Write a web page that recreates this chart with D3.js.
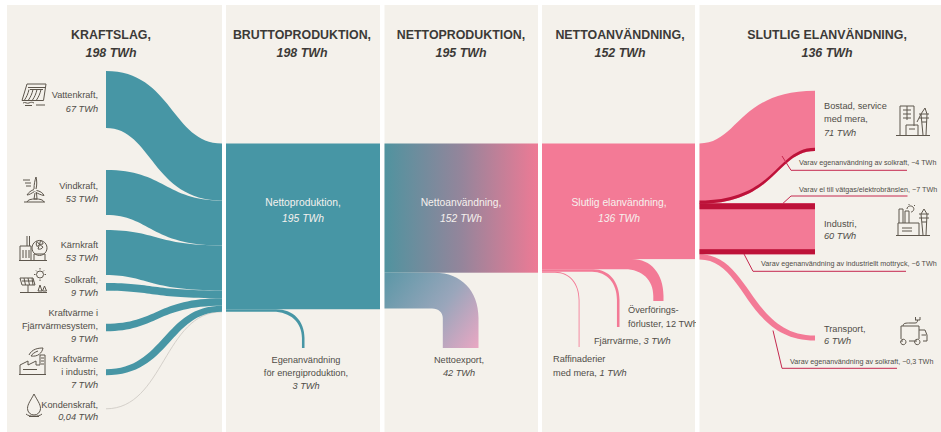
<!DOCTYPE html>
<html>
<head>
<meta charset="utf-8">
<script src="https://cdn.jsdelivr.net/npm/d3@7/dist/d3.min.js"></script>
<style>
html, body { margin: 0; padding: 0; background: #fff; }
svg { display: block; }
text { font-family: "Liberation Sans", Arial, sans-serif; }
.icon { fill: none; stroke: #5d564c; stroke-width: 1; }
</style>
</head>
<body>
<div id="chart"></div>
<script>
// values in TWh
var columnTitles = ["KRAFTSLAG,", "BRUTTOPRODUKTION,", "NETTOPRODUKTION,", "NETTOANVÄNDNING,", "SLUTLIG ELANVÄNDNING,"];
var columnTotals = [198, 198, 195, 152, 136];

var sourceValues = [67, 53, 53, 9, 9, 7, 0.04];
var sourceLabels = [["Vattenkraft,"], ["Vindkraft,"], ["Kärnkraft"], ["Solkraft,"],
    ["Kraftvärme i", "Fjärrvärmesystem,"], ["Kraftvärme", "i industri,"], ["Kondenskraft,"]];

var ownUseValue = 3;
var exportValue = 42;
var lossValues = [12, 3, 1];   // överföring, fjärrvärme, raffinaderier
var useValues = [71, 60, 6];   // bostad, industri, transport
var ofWhichValues = [4, 7, 6, 0.3];

var width = 941, height = 432;
var teal = "#4796a5", pink = "#f37a96", crimson = "#bd1239", bg = "#f4f1eb", ink = "#504d48";

// panel edges and the layout of the sankey
var panels = [[7, 222], [226, 380], [384.5, 538], [542, 695], [699.5, 941]];
var titleCenters = [111, 302, 461, 620, 827];
var blockTop = 143.5;
var sourceX = 106;
var sourceStart = 71;
var sourceGaps = [0, 42, 15, 8, 33, 38, 33.5];
// how far the steep part of each edge sits from the middle of the link
var sourceTopShift = [8, 1, -8, -12, -7, 0];
var sourceBottomShift = [-12, -14, -17, -12, -7, 6];

var h = d3.scaleLinear().domain([0, 198]).range([0, 168.3]);

var svg = d3.select("#chart").append("svg")
    .attr("width", width)
    .attr("height", height);

var defs = svg.append("defs");

var grad1 = defs.append("linearGradient")
    .attr("id", "netuse")
    .attr("gradientUnits", "userSpaceOnUse")
    .attr("x1", panels[2][0]).attr("x2", panels[2][1]).attr("y1", 0).attr("y2", 0);
grad1.append("stop").attr("offset", 0).attr("stop-color", "#50939f");
grad1.append("stop").attr("offset", 0.5).attr("stop-color", "#94859b");
grad1.append("stop").attr("offset", 1).attr("stop-color", "#ee7a95");

var grad2 = defs.append("linearGradient")
    .attr("id", "netexport")
    .attr("gradientUnits", "userSpaceOnUse")
    .attr("x1", panels[2][0]).attr("y1", 280).attr("x2", 478).attr("y2", 348);
grad2.append("stop").attr("offset", 0).attr("stop-color", "#5f98a8");
grad2.append("stop").attr("offset", 0.55).attr("stop-color", "#9aa6bb");
grad2.append("stop").attr("offset", 1).attr("stop-color", "#e9a7c3");

defs.append("clipPath").attr("id", "panel4")
    .append("rect")
    .attr("x", panels[3][0]).attr("y", 0)
    .attr("width", panels[3][1] - panels[3][0] + 1).attr("height", height);

// background panels
svg.selectAll(".panel")
    .data(panels)
    .enter().append("rect")
    .attr("class", "panel")
    .attr("x", function(d) { return d[0]; })
    .attr("y", 5)
    .attr("width", function(d) { return d[1] - d[0]; })
    .attr("height", height - 5)
    .attr("fill", bg);

// ribbon with a flat start and end, top and bottom edge can bend at different x
function ribbon(x0, x1, y0, y1, w, sTop, sBottom) {
    var p = d3.path();
    var mx = (x0 + x1) / 2;
    p.moveTo(x0, y0);
    p.bezierCurveTo(mx + sTop, y0, mx + sTop, y1, x1, y1);
    p.lineTo(x1, y1 + w);
    p.bezierCurveTo(mx + sBottom, y1 + w, mx + sBottom, y0 + w, x0, y0 + w);
    p.closePath();
    return p.toString();
}

// band leaving a block sideways and turning down
function bend(x0, xa, xb, yTop, w, right, bar, bottom) {
    var p = d3.path();
    p.moveTo(x0, yTop);
    p.lineTo(xa, yTop);
    p.bezierCurveTo(xa + (right - xa) * 0.6, yTop, right, yTop + (bar - yTop) * 0.4, right, bar);
    p.lineTo(right, bottom);
    p.lineTo(right - w, bottom);
    p.lineTo(right - w, bar);
    p.bezierCurveTo(right - w, yTop + w + (bar - yTop - w) * 0.4, right - w - (right - w - xb) * 0.4, yTop + w, xb, yTop + w);
    p.lineTo(x0, yTop + w);
    p.closePath();
    return p.toString();
}

// kraftslag -> bruttoproduktion
var links = [];
var y0 = sourceStart, y1 = blockTop;
sourceValues.forEach(function(v, i) {
    y0 += sourceGaps[i];
    links.push({ value: v, y0: y0, y1: y1, sTop: sourceTopShift[i], sBottom: sourceBottomShift[i] });
    y0 += h(v);
    y1 += h(v);
});

// kondenskraft is too small for a ribbon, keep it visible as a hairline
svg.append("path")
    .attr("fill", "none")
    .attr("stroke", "#d4d0ca")
    .attr("stroke-width", 1)
    .attr("d", d3.linkHorizontal()({ source: [sourceX, links[6].y0], target: [panels[0][1], links[6].y1] }));

svg.selectAll(".source")
    .data(links.slice(0, 6))
    .enter().append("path")
    .attr("class", "source")
    .attr("fill", teal)
    .attr("d", function(d) { return ribbon(sourceX, panels[0][1], d.y0, d.y1, h(d.value), d.sTop, d.sBottom); });

// bruttoproduktion
svg.append("rect")
    .attr("x", panels[1][0]).attr("y", blockTop)
    .attr("width", panels[1][1] - panels[1][0]).attr("height", h(columnTotals[2]))
    .attr("fill", teal);
svg.append("path")
    .attr("fill", teal)
    .attr("d", bend(panels[1][0], 276, 273, blockTop + h(columnTotals[2]), h(ownUseValue), 304.5, 338, 348));

// nettoproduktion
svg.append("rect")
    .attr("x", panels[2][0]).attr("y", blockTop)
    .attr("width", panels[2][1] - panels[2][0]).attr("height", h(columnTotals[3]))
    .attr("fill", "url(#netuse)");
svg.append("path")
    .attr("fill", "url(#netexport)")
    .attr("d", bend(panels[2][0], 435, 432, blockTop + h(columnTotals[3]), h(exportValue), 478.5, 318, 348));

// nettoanvändning
svg.append("rect")
    .attr("x", panels[3][0]).attr("y", blockTop)
    .attr("width", panels[3][1] - panels[3][0]).attr("height", h(columnTotals[4]))
    .attr("fill", pink);
var lossY = blockTop + h(columnTotals[4]);
var lossBends = [[632, 625, 663.5, 296, 301], [593, 592, 619.5, 300, 327], [555, 555, 579.5, 300, 347]];
lossValues.forEach(function(v, i) {
    var b = lossBends[i];
    svg.append("path")
        .attr("fill", pink)
        .attr("d", bend(panels[3][0], b[0], b[1], lossY, h(v), b[2], b[3], b[4]));
    lossY += h(v);
});

// slutlig elanvändning
var useX = 815;
var useLeft = [blockTop, blockTop + h(useValues[0]) - 0.5, blockTop + h(useValues[0] + useValues[1]) - 0.5];
var useRight = [90.7, 203.3, 335.5];
var useTopShift = [-19, 0, -7];
var useBottomShift = [19, 0, -12];
useValues.forEach(function(v, i) {
    svg.append("path")
        .attr("fill", pink)
        .attr("d", ribbon(panels[4][0], useX, useLeft[i], useRight[i], h(v), useTopShift[i], useBottomShift[i]));
});

// dark "varav" bands at the lower edge of the ribbons
var bandOffset = h(useValues[0] - ofWhichValues[0]);
svg.append("path")
    .attr("fill", crimson)
    .attr("d", ribbon(panels[4][0], useX, useLeft[0] + bandOffset, useRight[0] + bandOffset,
        h(ofWhichValues[0]), useBottomShift[0], useBottomShift[0]));
svg.append("rect")
    .attr("x", panels[4][0]).attr("y", useRight[1])
    .attr("width", useX - panels[4][0]).attr("height", h(ofWhichValues[1]))
    .attr("fill", crimson);
svg.append("rect")
    .attr("x", panels[4][0]).attr("y", useRight[1] + h(useValues[1] - ofWhichValues[2]))
    .attr("width", useX - panels[4][0]).attr("height", h(ofWhichValues[2]))
    .attr("fill", crimson);

// leader lines
var line = d3.line();
var leaders = [
    [[782, 156], [791, 170.3], [907, 170.3]],
    [[783, 203.3], [791, 196], [907.5, 196]],
    [[744, 254], [753, 271.3], [906, 271.3]],
    [[773, 330.5], [782, 368.3], [897, 368.3]]
];
svg.selectAll(".leader")
    .data(leaders)
    .enter().append("path")
    .attr("class", "leader")
    .attr("fill", "none")
    .attr("stroke", "#c5294f")
    .attr("stroke-width", 1)
    .attr("d", line);

// text
function twh(v) { return String(v).replace(".", ",") + " TWh"; }

function addText(x, y, anchor, str, opts) {
    opts = opts || {};
    return svg.append("text")
        .attr("x", x).attr("y", y)
        .attr("text-anchor", anchor)
        .attr("font-size", opts.size || 9.2)
        .attr("font-style", opts.italic ? "italic" : "normal")
        .attr("font-weight", opts.bold ? "bold" : "normal")
        .attr("fill", opts.fill || ink)
        .text(str);
}

columnTitles.forEach(function(t, i) {
    addText(titleCenters[i], 39, "middle", t, { size: 12.4, bold: true, fill: "#3c3a37" });
    addText(titleCenters[i], 56.7, "middle", twh(columnTotals[i]), { size: 12.4, bold: true, italic: true, fill: "#3c3a37" });
});

var sourceBaselines = [[98, 112], [189, 202], [247.5, 260.7], [283, 296], [315.7, 329, 341.7], [362, 375, 388], [407.7, 420]];
sourceLabels.forEach(function(lines, i) {
    lines.forEach(function(t, j) {
        addText(98, sourceBaselines[i][j], "end", t);
    });
    addText(98, sourceBaselines[i][lines.length], "end", twh(sourceValues[i]), { italic: true });
});

var white = "#f6f1ee";
addText(303, 206, "middle", "Nettoproduktion,", { size: 10.3, fill: white });
addText(303, 221.5, "middle", twh(columnTotals[2]), { size: 10.3, italic: true, fill: white });
addText(461, 206, "middle", "Nettoanvändning,", { size: 10.3, fill: white });
addText(461, 221.5, "middle", twh(columnTotals[3]), { size: 10.3, italic: true, fill: white });
addText(619, 206, "middle", "Slutlig elanvändning,", { size: 10.3, fill: white });
addText(619, 221.5, "middle", twh(columnTotals[4]), { size: 10.3, italic: true, fill: white });

addText(306, 362.7, "middle", "Egenanvändning");
addText(306, 375.7, "middle", "för energiproduktion,");
addText(306, 388.5, "middle", twh(ownUseValue), { italic: true });
addText(459, 362.7, "middle", "Nettoexport,");
addText(459, 375.7, "middle", twh(exportValue), { italic: true });

addText(628, 313, "start", "Överförings-");
addText(628, 326.7, "start", "förluster, " + twh(lossValues[0])).attr("clip-path", "url(#panel4)");
var fj = addText(594, 344, "start", "Fjärrvärme, ");
fj.append("tspan").attr("font-style", "italic").text(twh(lossValues[1]));
addText(553, 362, "start", "Raffinaderier");
var rf = addText(553, 375.7, "start", "med mera, ");
rf.append("tspan").attr("font-style", "italic").text(twh(lossValues[2]));

addText(824, 109.3, "start", "Bostad, service");
addText(824, 122, "start", "med mera,");
addText(824, 135.5, "start", twh(useValues[0]), { italic: true });
addText(824, 226.7, "start", "Industri,");
addText(824, 239.3, "start", twh(useValues[1]), { italic: true });
addText(824, 331.7, "start", "Transport,");
addText(824, 344.3, "start", twh(useValues[2]), { italic: true });

function varav(x, y, str, v) {
    var t = addText(x, y, "start", str, { size: 7.2 });
    t.append("tspan").text("−" + twh(v));
}
varav(799, 165, "Varav egenanvändning av solkraft, ", ofWhichValues[0]);
varav(799, 191.7, "Varav el till vätgas/elektrobränslen, ", ofWhichValues[1]);
varav(761, 266, "Varav egenanvändning av industriellt mottryck, ", ofWhichValues[2]);
varav(790, 364, "Varav egenanvändning av solkraft, ", ofWhichValues[3]);

// icons, simple line drawings
function icon(x, y, paths) {
    var g = svg.append("g").attr("class", "icon").attr("transform", "translate(" + x + "," + y + ")");
    paths.forEach(function(d) { g.append("path").attr("d", d); });
}

// dam
icon(22, 84, [
    "M5 0H24L21.5 16.5H0Z", "M6 3.5H23", "M8 5.5H21",
    "M7 5.5C6 10 4.5 13 2.5 16", "M11 5.5C10 10 8.5 13 6.5 16", "M15 5.5C14 10 12.5 13 10.5 16", "M19 5.5C18 10 16.5 13 14.5 16",
    "M1 19C3 17.5 5 20 7 19S10 18 12 19", "M14 21H23", "M3 21.5H10"
]);
// wind turbine
icon(23, 177, [
    "M11 12C11 7 12 3 13 0C14 4 14 8 13 12", "M13.5 13.5C17 14 20 16 21 18.5C18 18 14.5 16.5 12.5 15",
    "M11.5 14.5C9 16 6 18 4 18C5.5 15.5 8 13.5 11 12.5", "M12 16L11 22H14L13.5 16",
    "M4 25C5 22.5 8 22 12.5 22S20 22.5 21 25", "M1 25H22", "M0 3H7", "M2 6H8", "M3 9H8"
]);
// nuclear plant
icon(19, 236, [
    "M8 0V10", "M10.5 0V10", "M1 24V10H12V24", "M4 14V22", "M7 14V22", "M10 14V22", "M0 24.5H28",
    "M15 24V18H26V24", "M28 12A7.5 7.5 0 1 1 28 11.9", "M20.5 8.5L18 5.5C17 7 17 9 18 10.5Z", "M20.5 8.5L24 8C24 6 23 5 21.5 4.5Z", "M20.5 8.5L19 13C21 13.5 23 13 24 11Z"
]);
// solar
icon(20, 268, [
    "M20 3A3.5 3.5 0 1 1 20 10A3.5 3.5 0 1 1 20 3", "M20 0V1.5", "M20 11.5V13", "M14 6.5H15.5", "M24.5 6.5H26", "M16 2.5L17 3.5", "M24 2.5L23 3.5",
    "M0 10H13L15 17H2Z", "M2 13H14", "M4 10L5.5 17", "M8 10L9.5 17", "M12 10L13 17", "M8 17V24",
    "M0 24.5H27", "M20 17L22 23H18Z", "M24.5 18L26.5 23H22.5Z"
]);
// chp industry with leaf
icon(19, 347, [
    "M10 8C13 2 19 1 24 1C23 6 19 10 12 9C13 7 16 5 19 4", "M1 27V18L9 14V18L17 14V18H21V8H26V27", "M0 27.5H27",
    "M4 22.5H18", "M22 11H25", "M22 14H25", "M22 17H25"
]);
// drop
icon(26, 394, [
    "M8 0C5 6 1.5 10 1.5 14.5A6.5 6.5 0 0 0 14.5 14.5C14.5 10 11 6 8 0Z",
    "M0 20C3 23 13 23 16 20", "M3 22.5H13"
]);
// buildings with pylon
icon(896, 106, [
    "M4 29V0H18V20", "M7 4H15", "M7 8H15", "M7 12H15", "M11 0V14", "M0 29.5H34",
    "M10 29V19H22V29", "M13 23H19", "M27 29L25 8L29 2L31 8L30 29", "M23 8H33", "M23 12H33", "M26 16H31", "M25 8L21 16"
]);
// factory with pylon
icon(896, 205, [
    "M3 18V4H7V18", "M9 18V6H13V18", "M0 30.5H34", "M2 30V18H23V30", "M6 23H16", "M6 26H16",
    "M11 4C11 1 15 0 17 2C19 4 17 7 15 7", "M13 0V-1", "M18 1L19 0",
    "M27 30L25 9L28 4L31 9L30 30", "M23 9H33", "M23 13H33", "M26 17H31"
]);
// truck with plug
icon(900, 316, [
    "M1 23V10H19V23", "M19 14H25L27 19V25H23", "M1 25H3", "M9 25H17", "M21.5 19H26",
    "M6 26A2.7 2.7 0 1 1 6 25.9", "M20 26A2.7 2.7 0 1 1 20 25.9", "M3 10C3 7 6 7 10 7H15C17 7 17.5 6 17.5 4", "M15 4H20V1M15.5 4V1"
]);
</script>
</body>
</html>
